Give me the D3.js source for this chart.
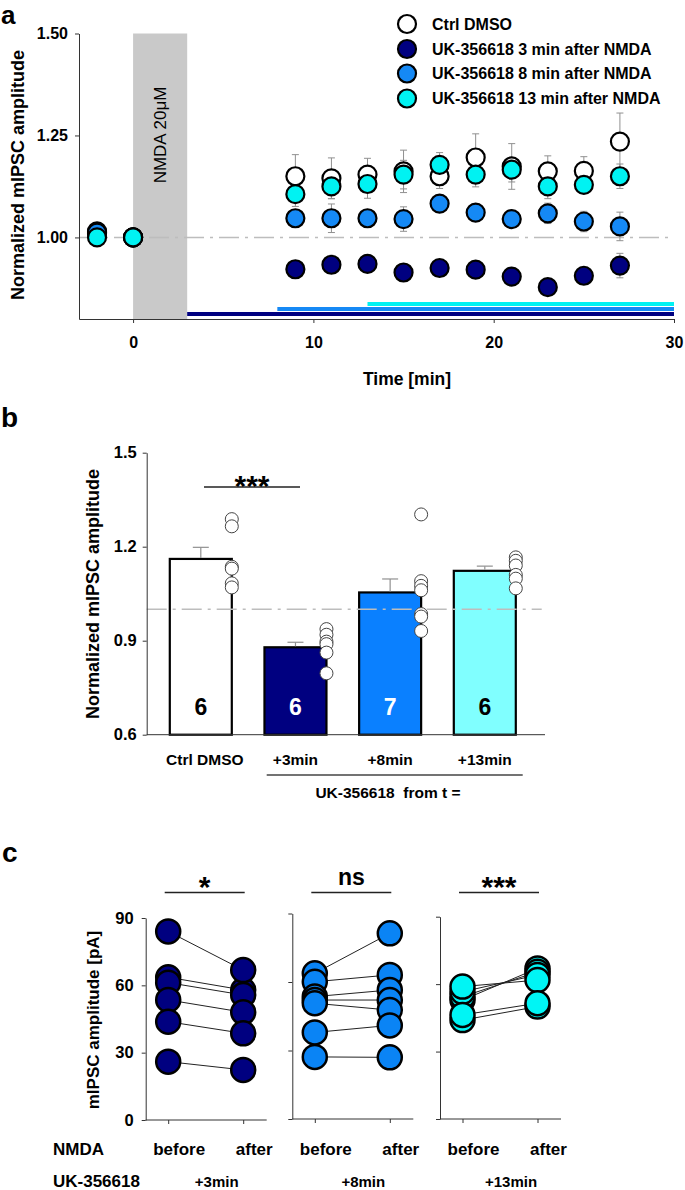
<!DOCTYPE html>
<html><head><meta charset="utf-8">
<script src="https://cdn.jsdelivr.net/npm/d3@7"></script>
<style>
body{margin:0;background:#fff;}
svg{display:block;font-family:"Liberation Sans", Arial, sans-serif;}
</style></head><body>
<svg id="chart" width="685" height="1190"></svg>
<script>
// ---------------- DATA ----------------
// Panel a: time course
const timePoints = [-2, 0, 9, 11, 13, 15, 17, 19, 21, 23, 25, 27];
const ctrlMean  = [1.010, 1.000, 1.150, 1.145, 1.154, 1.162, 1.150, 1.196, 1.174, 1.162, 1.163, 1.235];
const ctrlSem   = [0, 0, 0.053, 0.050, 0.040, 0.052, 0.030, 0.058, 0.056, 0.038, 0.035, 0.070];
const uk3Mean   = [1.015, 1.000, 0.922, 0.933, 0.935, 0.914, 0.925, 0.921, 0.904, 0.878, 0.906, 0.931];
const uk3Sem    = [0, 0, 0.012, 0.010, 0.010, 0.012, 0.018, 0.014, 0.012, 0.010, 0.014, 0.030];
const uk8Mean   = [1.012, 1.000, 1.047, 1.047, 1.047, 1.045, 1.083, 1.061, 1.045, 1.059, 1.039, 1.027];
const uk8Sem    = [0, 0, 0.020, 0.035, 0.020, 0.030, 0.020, 0.020, 0.020, 0.025, 0.025, 0.035];
const uk13Mean  = [1.000, 1.000, 1.106, 1.125, 1.131, 1.154, 1.178, 1.154, 1.166, 1.125, 1.129, 1.150];
const uk13Sem   = [0, 0, 0.030, 0.030, 0.035, 0.035, 0.030, 0.030, 0.030, 0.030, 0.020, 0.030];
const seriesLabels = ["Ctrl DMSO", "UK-356618 3 min after NMDA", "UK-356618 8 min after NMDA", "UK-356618 13 min after NMDA"];
const nmdaWindow = [0, 3];
const nmdaLabel = "NMDA 20\u03BCM";
const treatStart = [3, 8, 13];
const treatEnd = 30;
const aYTicks = [1.00, 1.25, 1.50];
const aXTicks = [0, 10, 20, 30];

// Panel b: bar chart
const barCats  = ["Ctrl DMSO", "+3min", "+8min", "+13min"];
const barMeans = [1.161, 0.879, 1.054, 1.123];
const barSem   = [0.037, 0.016, 0.043, 0.015];
const barN     = [6, 6, 7, 6];
const dotsCtrl = [1.288, 1.265, 1.136, 1.130, 1.083, 1.070];
const dots3    = [0.937, 0.919, 0.897, 0.889, 0.862, 0.796];
const dots8    = [1.303, 1.090, 1.075, 1.061, 0.985, 0.977, 0.931];
const dots13   = [1.166, 1.155, 1.140, 1.110, 1.098, 1.067];
const bYTicks  = [0.6, 0.9, 1.2, 1.5];

// Panel c: paired before/after
const pairCats = ["before", "after"];
const before3  = [63.6, 84.0, 61.2, 53.5, 43.8, 26.0];
const after3   = [57.9, 66.8, 55.7, 48.0, 38.6, 22.3];
const before8  = [63.8, 60.1, 53.6, 52.1, 50.7, 37.9, 27.2];
const after8   = [81.3, 63.1, 56.5, 52.1, 47.7, 41.0, 27.0];
const before13 = [52.9, 54.4, 56.6, 44.0, 58.9, 46.3];
const after13  = [67.0, 65.5, 64.1, 50.0, 61.8, 51.5];
const cLabels  = ["+3min", "+8min", "+13min"];
const cSig     = ["*", "ns", "***"];
const cYTicks  = [0, 30, 60, 90];

// ---------------- STYLE ----------------
const COL = {navy:"#000080", blue:"#1589F5", cyan:"#00F2F2", blueBar:"#0A80FF", cyanBar:"#80FFFF"};
const svg = d3.select("#chart");
const FONT = '"Liberation Sans", Arial, sans-serif';

function styleAxis(g, fs) {
  g.selectAll("path.domain").attr("stroke", "#333").attr("stroke-width", 1);
  g.selectAll(".tick line").attr("stroke", "#333").attr("stroke-width", 1);
  g.selectAll(".tick text").attr("font-family", FONT).attr("font-size", fs).attr("font-weight", "bold").attr("fill", "#000");
}

// ---------------- PANEL A ----------------
const xA = d3.scaleLinear().domain([-3, 30]).range([79, 674]);
const yA = d3.scaleLinear().domain([0.8, 1.5]).range([319, 33.5]);
const gA = svg.append("g");

gA.append("rect")
  .attr("x", xA(nmdaWindow[0])).attr("y", yA(1.5))
  .attr("width", xA(nmdaWindow[1]) - xA(nmdaWindow[0]))
  .attr("height", yA(0.8) - yA(1.5))
  .attr("fill", "#c9c9c9");
gA.append("text")
  .attr("transform", `translate(${xA((nmdaWindow[0] + nmdaWindow[1]) / 2)},135) rotate(-90)`)
  .attr("text-anchor", "middle").attr("dominant-baseline", "central")
  .attr("font-size", 17).text(nmdaLabel);

gA.append("line")
  .attr("x1", xA(-3)).attr("x2", xA(30)).attr("y1", yA(1)).attr("y2", yA(1))
  .attr("stroke", "#bdbdbd").attr("stroke-width", 1.5).attr("stroke-dasharray", "20,6,3,6");

// treatment bars
const treatCols = [COL.navy, COL.blue, COL.cyan];
treatStart.forEach((s, i) => {
  gA.append("line")
    .attr("x1", xA(s)).attr("x2", xA(treatEnd))
    .attr("y1", yA(0.8) - 5 - i * 5).attr("y2", yA(0.8) - 5 - i * 5)
    .attr("stroke", treatCols[i]).attr("stroke-width", 4);
});

const seriesA = [
  {mean: ctrlMean, sem: ctrlSem, fill: "#ffffff"},
  {mean: uk3Mean, sem: uk3Sem, fill: COL.navy},
  {mean: uk8Mean, sem: uk8Sem, fill: COL.blue},
  {mean: uk13Mean, sem: uk13Sem, fill: COL.cyan}
];
// error bars
seriesA.forEach(s => {
  timePoints.forEach((t, i) => {
    if (!s.sem[i]) return;
    const x = xA(t), y1 = yA(s.mean[i] - s.sem[i]), y2 = yA(s.mean[i] + s.sem[i]);
    gA.append("line").attr("x1", x).attr("x2", x).attr("y1", y1).attr("y2", y2).attr("stroke", "#909090").attr("stroke-width", 1);
    [y1, y2].forEach(y => gA.append("line").attr("x1", x - 3.5).attr("x2", x + 3.5).attr("y1", y).attr("y2", y).attr("stroke", "#909090").attr("stroke-width", 1));
  });
});
// markers
seriesA.forEach(s => {
  gA.append("g").selectAll("circle").data(timePoints).join("circle")
    .attr("cx", d => xA(d)).attr("cy", (d, i) => yA(s.mean[i]))
    .attr("r", 9).attr("fill", s.fill).attr("stroke", "#000").attr("stroke-width", 2.2);
});

const axAy = gA.append("g").attr("transform", `translate(${xA(-3)},0)`)
  .call(d3.axisLeft(yA).tickValues(aYTicks).tickFormat(d3.format(".2f")).tickSize(4).tickSizeOuter(0).tickPadding(7));
styleAxis(axAy, 16);
const axAx = gA.append("g").attr("transform", `translate(0,${yA(0.8)})`)
  .call(d3.axisBottom(xA).tickValues(aXTicks).tickFormat(d3.format("d")).tickSize(4).tickSizeOuter(0).tickPadding(14));
styleAxis(axAx, 16);

gA.append("text").attr("x", 407).attr("y", 385).attr("text-anchor", "middle")
  .attr("font-size", 17.5).attr("font-weight", "bold").text("Time [min]");
gA.append("text").attr("transform", "translate(18,175) rotate(-90)")
  .attr("text-anchor", "middle").attr("dominant-baseline", "central")
  .attr("font-size", 18).attr("font-weight", "bold").text("Normalized mIPSC amplitude");

// legend
const legFills = ["#ffffff", COL.navy, COL.blue, COL.cyan];
const legY = [24, 49, 73.5, 98.5];
seriesLabels.forEach((lab, i) => {
  gA.append("circle").attr("cx", 407).attr("cy", legY[i]).attr("r", 9)
    .attr("fill", legFills[i]).attr("stroke", "#000").attr("stroke-width", 2.2);
  gA.append("text").attr("x", 432).attr("y", legY[i]).attr("dominant-baseline", "central")
    .attr("font-size", 16).attr("font-weight", "bold").text(lab);
});

svg.append("text").attr("x", 1).attr("y", 23.5).attr("font-size", 26).attr("font-weight", "bold").text("a");

// ---------------- PANEL B ----------------
const yB = d3.scaleLinear().domain([0.6, 1.5]).range([734.7, 452.7]);
const xB = d3.scalePoint().domain(barCats).range([200.8, 484.8]);
const bw = 62;
const gB = svg.append("g");
const barFills = ["#ffffff", COL.navy, COL.blueBar, COL.cyanBar];
const barTextCol = ["#000", "#fff", "#fff", "#000"];
const dotSets = [dotsCtrl, dots3, dots8, dots13];

gB.selectAll("rect.bar").data(barCats).join("rect").attr("class", "bar")
  .attr("x", d => xB(d) - bw / 2).attr("y", (d, i) => yB(barMeans[i]))
  .attr("width", bw).attr("height", (d, i) => yB(0.6) - yB(barMeans[i]))
  .attr("fill", (d, i) => barFills[i]).attr("stroke", "#000").attr("stroke-width", 2.2);

gB.append("line").attr("x1", 146.7).attr("x2", 541.7).attr("y1", yB(1)).attr("y2", yB(1))
  .attr("stroke", "#bdbdbd").attr("stroke-width", 1.5).attr("stroke-dasharray", "20,6,3,6");

barCats.forEach((c, i) => {
  const x = xB(c), y1 = yB(barMeans[i]), y2 = yB(barMeans[i] + barSem[i]);
  gB.append("line").attr("x1", x).attr("x2", x).attr("y1", y1 - 1).attr("y2", y2).attr("stroke", "#909090").attr("stroke-width", 1.2);
  gB.append("line").attr("x1", x - 8).attr("x2", x + 8).attr("y1", y2).attr("y2", y2).attr("stroke", "#909090").attr("stroke-width", 1.2);
  gB.append("g").selectAll("circle").data(dotSets[i]).join("circle")
    .attr("cx", x + bw / 2).attr("cy", d => yB(d)).attr("r", 6.5)
    .attr("fill", "#fff").attr("stroke", "#444").attr("stroke-width", 1);
  gB.append("text").attr("x", x).attr("y", 715).attr("text-anchor", "middle")
    .attr("font-size", 23).attr("font-weight", "bold").attr("fill", barTextCol[i]).text(barN[i]);
  gB.append("text").attr("x", x + (i === 0 ? 4 : 0)).attr("y", 765).attr("text-anchor", "middle")
    .attr("font-size", 15.5).attr("font-weight", "bold").text(c);
});

const axBy = gB.append("g").attr("transform", "translate(146.7,0)")
  .call(d3.axisLeft(yB).tickValues(bYTicks).tickFormat(d3.format(".1f")).tickSize(4).tickSizeOuter(0).tickPadding(6));
styleAxis(axBy, 16.5);
gB.append("line").attr("x1", 146.7).attr("x2", 545).attr("y1", yB(0.6)).attr("y2", yB(0.6)).attr("stroke", "#333");

gB.append("line").attr("x1", 266.7).attr("x2", 522.7).attr("y1", 775).attr("y2", 775).attr("stroke", "#444").attr("stroke-width", 1.5);
gB.append("text").attr("x", 388).attr("y", 798).attr("text-anchor", "middle").style("white-space", "pre")
  .attr("font-size", 15.5).attr("font-weight", "bold").text("UK-356618  from t =");

gB.append("line").attr("x1", 204).attr("x2", 300).attr("y1", 487).attr("y2", 487).attr("stroke", "#222").attr("stroke-width", 1.3);
gB.append("text").attr("x", 252).attr("y", 496).attr("text-anchor", "middle")
  .attr("font-size", 30).attr("font-weight", "bold").text("***");

gB.append("text").attr("transform", "translate(93,594) rotate(-90)")
  .attr("text-anchor", "middle").attr("dominant-baseline", "central")
  .attr("font-size", 18).attr("font-weight", "bold").text("Normalized mIPSC amplitude");

svg.append("text").attr("x", 1).attr("y", 427).attr("font-size", 28).attr("font-weight", "bold").text("b");

// ---------------- PANEL C ----------------
const gC = svg.append("g");
const cAxisX = [145.7, 292.3, 440];
const cTop = [918, 913.5, 916.7];
const cBottom = [1120, 1119, 1119];
const cBefore = [before3, before8, before13];
const cAfter = [after3, after8, after13];
const cCols = [COL.navy, "#0A84F5", "#00F5F5"];

cAxisX.forEach((ax, i) => {
  const yC = d3.scaleLinear().domain([0, 90]).range([cBottom[i], cTop[i]]);
  const xC = d3.scalePoint().domain(pairCats).range([ax + 22.5, ax + 97.5]);
  const g = gC.append("g");

  const ay = g.append("g").attr("transform", `translate(${ax},0)`)
    .call(d3.axisLeft(yC).tickValues(cYTicks).tickFormat(i === 0 ? d3.format("d") : () => "").tickSize(4).tickSizeOuter(0).tickPadding(8));
  styleAxis(ay, 16.5);
  const axx = g.append("g").attr("transform", `translate(0,${cBottom[i]})`)
    .call(d3.axisBottom(xC).tickSize(4).tickFormat(() => ""));
  axx.select("path.domain").remove();
  styleAxis(axx, 16);
  g.append("line").attr("x1", ax).attr("x2", ax + 121).attr("y1", cBottom[i]).attr("y2", cBottom[i]).attr("stroke", "#333");

  pairCats.forEach(p => {
    g.append("text").attr("x", xC(p) + 11).attr("y", 1155).attr("text-anchor", "middle")
      .attr("font-size", 17).attr("font-weight", "bold").text(p);
  });
  g.append("text").attr("x", (xC("before") + xC("after")) / 2 + 11).attr("y", 1187).attr("text-anchor", "middle")
    .attr("font-size", 15).attr("font-weight", "bold").text(cLabels[i]);

  const b = cBefore[i], a = cAfter[i];
  g.append("g").selectAll("line").data(b).join("line")
    .attr("x1", xC("before")).attr("x2", xC("after"))
    .attr("y1", d => yC(d)).attr("y2", (d, j) => yC(a[j]))
    .attr("stroke", "#222").attr("stroke-width", 1);
  g.append("g").selectAll("circle").data(b).join("circle")
    .attr("cx", xC("before")).attr("cy", d => yC(d)).attr("r", 12)
    .attr("fill", cCols[i]).attr("stroke", "#000").attr("stroke-width", 2.5);
  g.append("g").selectAll("circle").data(a).join("circle")
    .attr("cx", xC("after")).attr("cy", d => yC(d)).attr("r", 12)
    .attr("fill", cCols[i]).attr("stroke", "#000").attr("stroke-width", 2.5);

  g.append("line").attr("x1", ax + 19).attr("x2", ax + 99).attr("y1", 892.5).attr("y2", 892.5).attr("stroke", "#222").attr("stroke-width", 1.3);
  const isStars = cSig[i] !== "ns";
  g.append("text").attr("x", ax + 59).attr("y", isStars ? 897 : 885).attr("text-anchor", "middle")
    .attr("font-size", isStars ? 30 : 23).attr("font-weight", "bold").text(cSig[i]);
});

gC.append("text").attr("x", 53).attr("y", 1155).attr("font-size", 17).attr("font-weight", "bold").text("NMDA");
gC.append("text").attr("x", 53).attr("y", 1187).attr("font-size", 17).attr("font-weight", "bold").text("UK-356618");
gC.append("text").attr("transform", "translate(93,1020) rotate(-90)")
  .attr("text-anchor", "middle").attr("dominant-baseline", "central")
  .attr("font-size", 17).attr("font-weight", "bold").text("mIPSC amplitude [pA]");

svg.append("text").attr("x", 2).attr("y", 862).attr("font-size", 28).attr("font-weight", "bold").text("c");
</script>
</body></html>
